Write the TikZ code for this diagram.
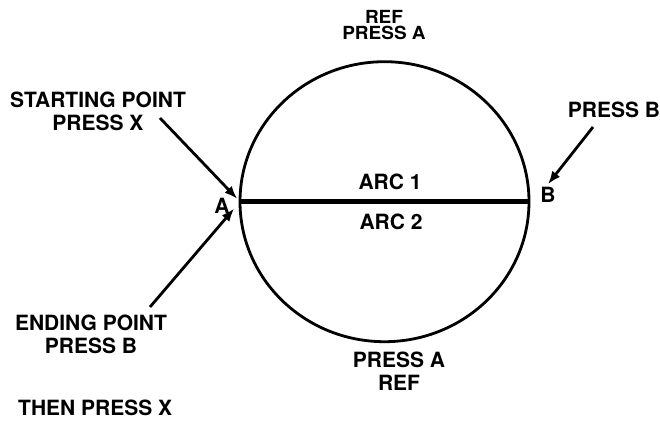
\documentclass[tikz,border=0pt]{standalone}
\usepackage{fontspec}
\setmainfont{TeX Gyre Heros}
\usetikzlibrary{arrows.meta}

\tikzset{
  lbl/.style={font=\bfseries\fontsize{21}{23}\selectfont,align=center,inner sep=2pt},
  ptr/.style={line width=2.8pt,-{Latex[length=13pt,width=10pt]}}
}

\begin{document}
\begin{tikzpicture}[x=1pt,y=-1pt]
\useasboundingbox (0,0) rectangle (660,423);
% the circle and its chord
\draw[line width=2.8pt] (384.5,201.7) ellipse [x radius=144.5, y radius=140];
\coordinate (A) at (240,201.7);
\coordinate (B) at (529,201.7);
\draw[line width=4.5pt] (A) -- (B);
% labels
\node[lbl] (arcone) at (390,181.5) {ARC 1};
\node[lbl] (arctwo) at (391,221.5) {ARC 2};
\node[lbl] (Alabel) at (222,206) {A};
\node[lbl,inner sep=3pt] (Blabel) at (548,195) {B};
\node[lbl,font=\bfseries\fontsize{19}{17.5}\selectfont,yscale=0.95] (toplbl) at (384,25) {REF\\PRESS A};
\node[lbl] (botlbl) at (399,371.5) {PRESS A\\REF};
\node[lbl] (startlbl) at (98,111) {STARTING POINT\\PRESS X};
\node[lbl] (endlbl) at (91,334) {ENDING POINT\\PRESS B};
\node[lbl] (presslbl) at (614,110) {PRESS B};
\node[lbl,anchor=base west] (thenlbl) at (16,415) {THEN PRESS X};
% arrows
\coordinate (s1) at (160,118);
\coordinate (s2) at (150,307);
\coordinate (s3) at (593,127);
\draw[ptr,shorten >=4pt] (s1) -- (A);
\draw[ptr,shorten >=9pt] (s2) -- (A);
\draw[ptr] (s3) -- (Blabel.north);
\end{tikzpicture}
\end{document}
